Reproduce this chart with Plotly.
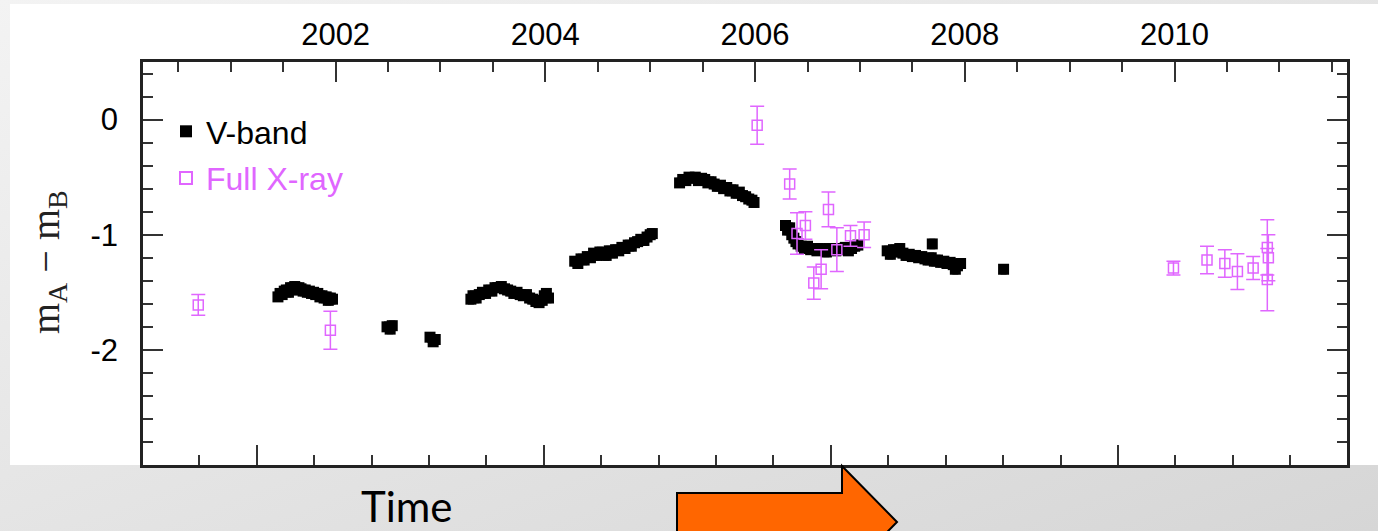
import base64
import plotly.graph_objects as go

W, H = 1378, 531
L, R, T, B = 143, 31, 62, 66
PW, PH = W - L - R, H - T - B


def px(x):
    return (x - L) / PW


def py(y):
    return (H - B - y) / PH


# ---------------- data ----------------
vband_year = [
    2001.45, 2001.47, 2001.49, 2001.51, 2001.53, 2001.55, 2001.57, 2001.59, 2001.61,
    2001.63, 2001.65, 2001.67, 2001.69, 2001.71, 2001.73, 2001.75, 2001.77, 2001.79,
    2001.81, 2001.83, 2001.85, 2001.87, 2001.89, 2001.91, 2001.93, 2001.95, 2001.97,
    2002.49, 2002.52, 2002.54,
    2002.90, 2002.93, 2002.95,
    2003.29, 2003.31, 2003.34, 2003.37, 2003.40, 2003.43, 2003.46, 2003.49, 2003.52,
    2003.55, 2003.58, 2003.61, 2003.64, 2003.67, 2003.70, 2003.73, 2003.76, 2003.79,
    2003.82, 2003.85, 2003.88, 2003.91, 2003.94, 2003.97, 2003.99, 2004.01, 2004.03,
    2004.28, 2004.31, 2004.34, 2004.37, 2004.40, 2004.43, 2004.46, 2004.49, 2004.52,
    2004.55, 2004.58, 2004.61, 2004.64, 2004.67, 2004.70, 2004.73, 2004.76, 2004.79,
    2004.82, 2004.85, 2004.88, 2004.91, 2004.94, 2004.97, 2005.00, 2005.02,
    2005.28, 2005.31, 2005.34, 2005.37, 2005.40, 2005.43, 2005.46, 2005.49, 2005.52,
    2005.55, 2005.58, 2005.61, 2005.64, 2005.67, 2005.70, 2005.73, 2005.76, 2005.79,
    2005.82, 2005.85, 2005.88, 2005.91, 2005.94, 2005.97, 2005.99,
    2006.29, 2006.31, 2006.33, 2006.35, 2006.37, 2006.39, 2006.41, 2006.44, 2006.47,
    2006.50, 2006.53, 2006.56, 2006.59, 2006.62, 2006.65, 2006.68, 2006.71, 2006.74,
    2006.77, 2006.80, 2006.83, 2006.86, 2006.89, 2006.92, 2006.95, 2006.98,
    2007.26, 2007.29, 2007.32, 2007.35, 2007.38, 2007.41, 2007.44, 2007.47, 2007.50,
    2007.53, 2007.56, 2007.59, 2007.62, 2007.65, 2007.69, 2007.68, 2007.71, 2007.74,
    2007.77, 2007.80, 2007.83, 2007.86, 2007.89, 2007.91, 2007.93, 2007.96,
    2008.37,
]
vband_mag = [
    -1.54, -1.51, -1.52, -1.49, -1.48, -1.50, -1.46, -1.47, -1.45,
    -1.48, -1.46, -1.47, -1.49, -1.48, -1.50, -1.49, -1.51, -1.50,
    -1.52, -1.51, -1.54, -1.53, -1.55, -1.54, -1.57, -1.55, -1.56,
    -1.80, -1.82, -1.79,
    -1.89, -1.93, -1.91,
    -1.56, -1.53, -1.55, -1.52, -1.50, -1.51, -1.48, -1.49, -1.46,
    -1.46, -1.45, -1.47, -1.48, -1.49, -1.51, -1.50, -1.52, -1.53,
    -1.52, -1.55, -1.56, -1.58, -1.59, -1.57, -1.53, -1.51, -1.55,
    -1.23, -1.25, -1.21, -1.22, -1.19, -1.20, -1.16, -1.18, -1.15,
    -1.17, -1.18, -1.14, -1.16, -1.13, -1.14, -1.11, -1.12, -1.09,
    -1.10, -1.07, -1.06, -1.04, -1.05, -1.02, -1.00, -0.99,
    -0.55, -0.52, -0.53, -0.50, -0.51, -0.50, -0.53, -0.51, -0.52,
    -0.55, -0.54, -0.56, -0.58, -0.57, -0.60, -0.59, -0.62, -0.61,
    -0.64, -0.63, -0.66, -0.67, -0.69, -0.70, -0.72,
    -0.92, -0.96, -0.94, -1.00, -1.03, -1.06, -1.08, -1.10, -1.12,
    -1.10, -1.13, -1.12, -1.14, -1.12, -1.13, -1.15, -1.12, -1.13,
    -1.14, -1.12, -1.13, -1.11, -1.14, -1.12, -1.10, -1.09,
    -1.14, -1.17, -1.13, -1.15, -1.12, -1.16, -1.18, -1.17, -1.19,
    -1.18, -1.20, -1.19, -1.21, -1.22, -1.08, -1.20, -1.23, -1.22,
    -1.24, -1.23, -1.25, -1.24, -1.26, -1.30, -1.27, -1.25,
    -1.30,
]

xray_year = [2000.69, 2001.95, 2006.02, 2006.33, 2006.40, 2006.48, 2006.56, 2006.63,
             2006.70, 2006.78, 2006.91, 2007.04, 2009.99, 2010.31, 2010.48, 2010.60,
             2010.75, 2010.885, 2010.895, 2010.885]
xray_mag = [-1.61, -1.83, -0.05, -0.56, -0.99, -0.92, -1.42, -1.30,
            -0.78, -1.13, -1.01, -1.00, -1.29, -1.22, -1.25, -1.32,
            -1.29, -1.11, -1.20, -1.39]
xray_err = [0.09, 0.165, 0.165, 0.13, 0.18, 0.12, 0.14, 0.17,
            0.15, 0.19, 0.09, 0.11, 0.06, 0.12, 0.12, 0.155,
            0.10, 0.24, 0.20, 0.27]

year_ticks = [2002, 2004, 2006, 2008, 2010]
hjd_range = [1604, 5798]          # HJD - 2450000 (bottom axis)
year_range = [2000.163, 2011.645]
ytick_vals = [-2, -1, 0]
ytick_text = ["-2", "-1", "0"]

MAGENTA = "#e066ff"
SANS = "Liberation Sans, Arial, sans-serif"

fig = go.Figure()
fig.add_trace(go.Scatter(
    x=vband_year, y=vband_mag, mode="markers", name="V-band", legendgroup="v",
    marker=dict(symbol="square", size=11, color="black"),
    error_y=dict(type="constant", value=0.04, color="black", thickness=1.2, width=3),
    hoverinfo="skip",
))
fig.add_trace(go.Scatter(
    x=xray_year, y=xray_mag, mode="markers", legendgroup="x",
    name=f"<span style='color:{MAGENTA}'>Full X-ray</span>",
    marker=dict(symbol="square-open", size=10, color=MAGENTA, line=dict(width=1.5, color=MAGENTA)),
    error_y=dict(type="data", array=xray_err, color=MAGENTA, thickness=1.5, width=7),
    hoverinfo="skip",
))
fig.add_trace(go.Scatter(x=[], y=[], xaxis="x2", showlegend=False, hoverinfo="skip"))

tick_common = dict(ticks="inside", ticklen=20, tickwidth=2, tickcolor="#333",
                   showgrid=False, zeroline=False)
minor_common = dict(ticks="inside", ticklen=10, tickwidth=2, tickcolor="#333", showgrid=False)

# gradient background
svg = (f'<svg xmlns="http://www.w3.org/2000/svg" width="{W}" height="{H}">'
       '<defs><linearGradient id="g" x1="0" y1="0" x2="1" y2="1">'
       '<stop offset="0" stop-color="#f3f3f3"/><stop offset="1" stop-color="#d6d6d6"/>'
       '</linearGradient></defs>'
       f'<rect width="{W}" height="{H}" fill="url(#g)"/></svg>')
src = "data:image/svg+xml;base64," + base64.b64encode(svg.encode()).decode()

arrow_pts = [(677, 493), (842, 493), (842, 466), (897, 522), (842, 578), (842, 551), (677, 551)]
arrow_path = "M " + " L ".join(f"{px(a):.5f},{py(b):.5f}" for a, b in arrow_pts) + " Z"

fig.update_layout(
    width=W, height=H,
    margin=dict(l=L, r=R, t=T, b=B, autoexpand=False),
    paper_bgcolor="#e4e4e4", plot_bgcolor="white",
    showlegend=True,
    xaxis=dict(side="top", range=year_range, tickmode="array", tickvals=year_ticks,
               showline=True, mirror=True, linecolor="#222", linewidth=2.5,
               ticklabelstandoff=2,
               tickfont=dict(family=SANS, size=31, color="black"),
               minor=dict(tick0=2000, dtick=0.5, **minor_common), **tick_common),
    xaxis2=dict(overlaying="x", side="bottom", anchor="y", range=hjd_range,
                tick0=0, dtick=1000, showticklabels=False, showline=False,
                minor=dict(tick0=0, dtick=200, **minor_common), **tick_common),
    yaxis=dict(range=[-3, 0.5], tickmode="array", tickvals=ytick_vals, ticktext=ytick_text,
               showline=True, mirror="ticks", linecolor="#222", linewidth=2.5,
               ticklabelstandoff=16,
               tickfont=dict(family=SANS, size=31, color="black"),
               minor=dict(tick0=0, dtick=0.2, **minor_common), **tick_common),
    legend=dict(x=px(166), y=py(104), xanchor="left", yanchor="top",
                bgcolor="rgba(0,0,0,0)", font=dict(family=SANS, size=32, color="black"),
                traceorder="grouped", tracegroupgap=2, itemsizing="constant"),
    images=[dict(source=src, xref="paper", yref="paper", x=px(0), y=py(0),
                 sizex=W / PW, sizey=H / PH, xanchor="left", yanchor="top",
                 sizing="stretch", layer="below")],
    shapes=[
        dict(type="rect", xref="paper", yref="paper", x0=px(10), x1=px(W), y0=py(465), y1=py(4),
             fillcolor="white", line=dict(width=0), layer="below"),
        dict(type="path", xref="paper", yref="paper", path=arrow_path,
             fillcolor="#ff6600", line=dict(color="black", width=2), layer="above"),
    ],
    annotations=[
        dict(text="m<sub>A</sub> − m<sub>B</sub>", xref="paper", yref="paper",
             x=px(48), y=py(262), xanchor="center", yanchor="middle", textangle=-90,
             showarrow=False, font=dict(family="Liberation Serif, Times New Roman, serif", size=40, color="#222")),
        dict(text="Time", xref="paper", yref="paper", x=px(406), y=py(506),
             xanchor="center", yanchor="middle", showarrow=False,
             font=dict(family="Lato, Open Sans, sans-serif", size=42, color="black")),
    ],
)

fig.write_html("out.html")
